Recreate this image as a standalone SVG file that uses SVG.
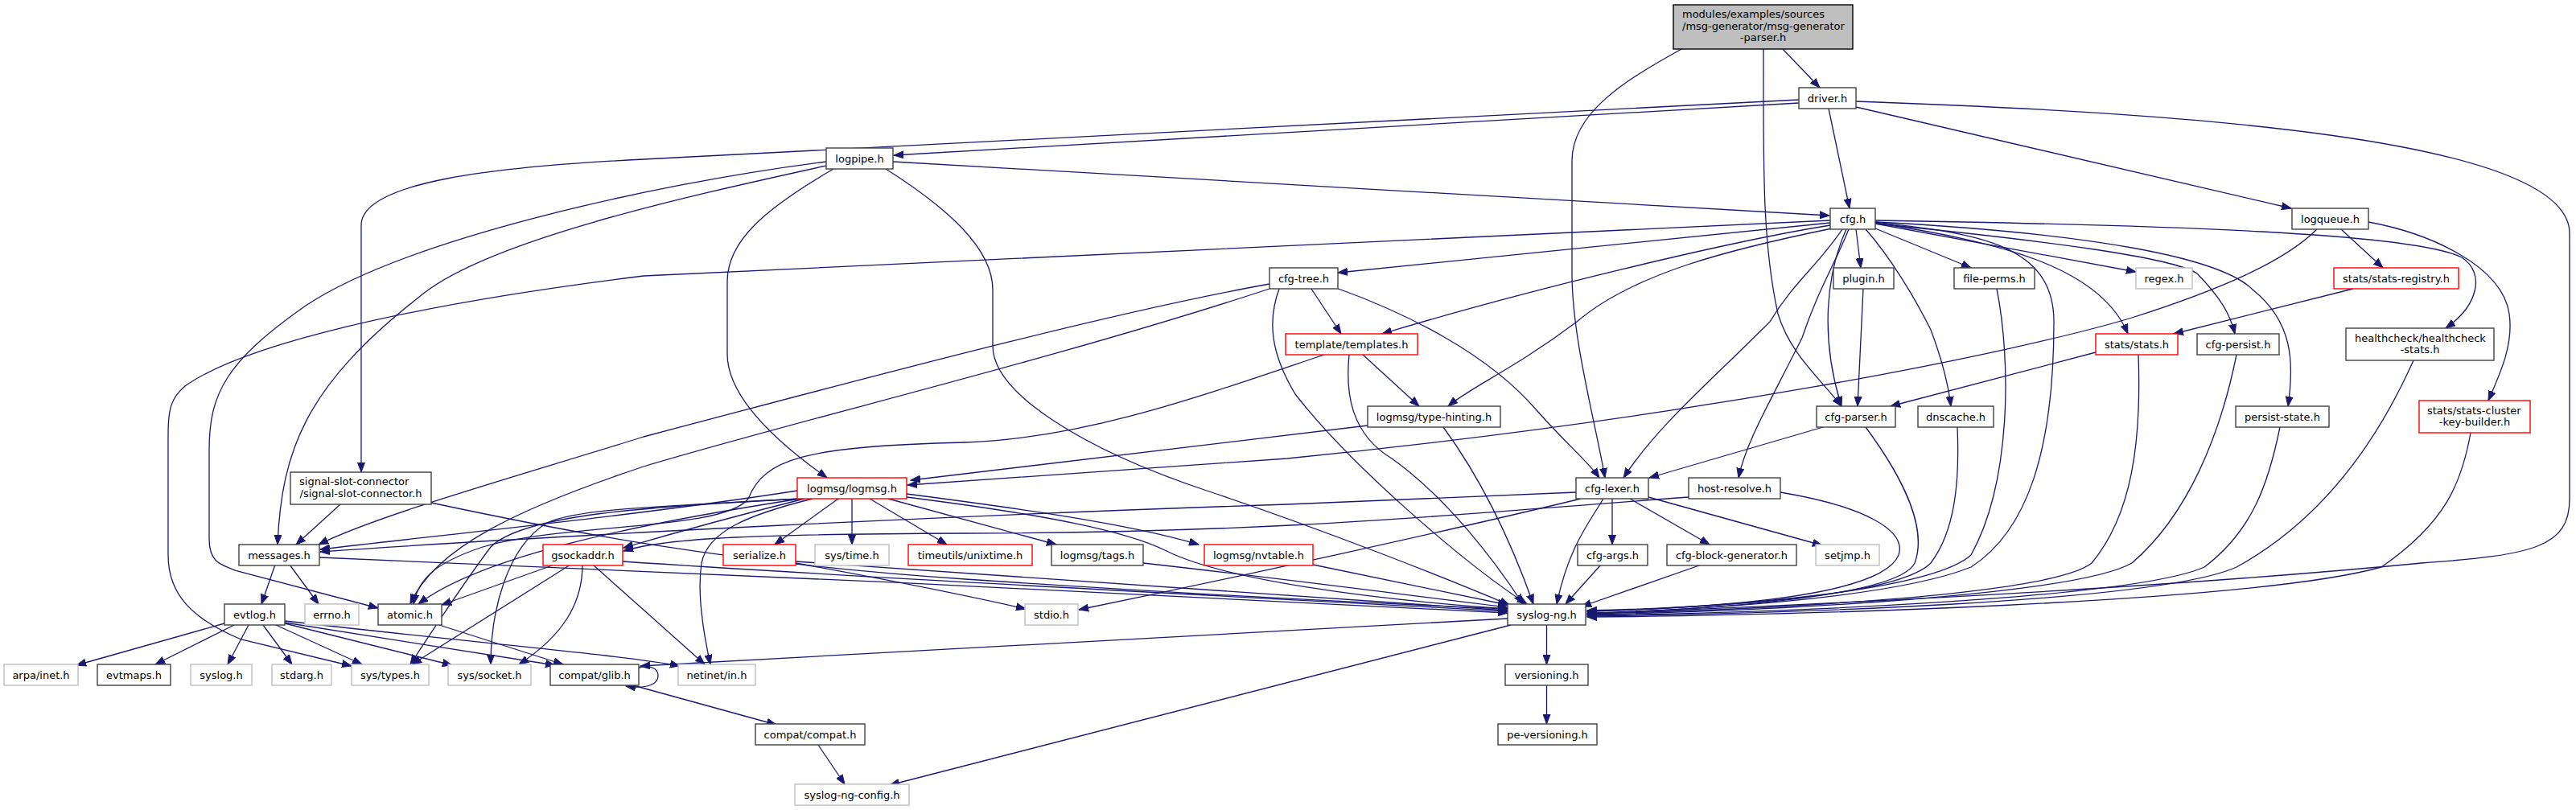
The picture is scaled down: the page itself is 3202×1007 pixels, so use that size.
<svg xmlns="http://www.w3.org/2000/svg" width="3202" height="1007" viewBox="0 0 3202 1007">
<style>
.n rect{fill:#fff;stroke:#404040;stroke-width:1.4}
.g rect{fill:#fff;stroke:#bfbfbf;stroke-width:1.4}
.r rect{fill:#fff;stroke:#ff0000;stroke-width:1.4}
.m rect{fill:#bfbfbf;stroke:#000;stroke-width:1.4}
text{font-family:"DejaVu Sans","Liberation Sans",sans-serif;font-size:13px;fill:#000;text-anchor:middle}
text.l{text-anchor:start}
#edges path{fill:none;stroke:#191970;stroke-width:1.3;marker-end:url(#a)}
</style>
<defs>
<marker id="a" markerUnits="userSpaceOnUse" markerWidth="13" markerHeight="10" refX="12" refY="5" orient="auto" viewBox="0 0 13 10">
<path d="M0,0.5 L12,5 L0,9.5 z" fill="#191970" stroke="#191970" stroke-width="1"/>
</marker>
</defs>
<rect width="3202" height="1007" fill="#fff"/>
<g id="edges">
<path d="M2216,61 L2262,109"/>
<path d="M2192,61 C2192,200 2190,300 2210,390 C2225,440 2262,470 2289,505"/>
<path d="M2090,61 C2020,100 1954,140 1954,200 L1954,340 C1954,420 1982,520 1995,594"/>
<path d="M2236,128 L1111,193"/>
<path d="M2236,124 L800,198 C620,207 449,225 449,280 L449,587"/>
<path d="M2273,135 L2299,259"/>
<path d="M2307,133 L2848,259"/>
<path d="M2307,126 C2700,140 3194,170 3194,290 L3194,620 C3194,680 3150,690 3010,700 C2700,730 2300,750 1973,763"/>
<path d="M1110,201 L2274,268"/>
<path d="M1027,206 C850,245 600,300 520,370 C380,480 350,560 345,677"/>
<path d="M1027,201 C800,230 500,300 380,380 C280,450 260,490 260,560 L260,670 C260,700 275,702 295,710 L470,756"/>
<path d="M1036,210 C950,260 904,300 904,350 L904,440 C904,500 980,560 1028,594"/>
<path d="M1101,210 C1180,260 1234,310 1234,360 L1234,430 C1234,490 1350,560 1500,610 C1650,660 1800,720 1876,752"/>
<path d="M2275,277 L1663,339"/>
<path d="M2275,280 C2150,300 1900,360 1718,415"/>
<path d="M2277,284 C2150,310 2030,340 1960,400 C1880,460 1830,480 1800,505"/>
<path d="M2307,285 L2313,333"/>
<path d="M2295,285 C2270,340 2262,420 2289,505"/>
<path d="M2290,285 C2260,330 2230,350 2200,400 C2120,480 2060,530 2018,594"/>
<path d="M2298,285 C2280,330 2260,360 2240,420 C2200,500 2170,550 2161,594"/>
<path d="M2319,285 C2350,320 2380,370 2400,410 C2415,450 2422,480 2425,505"/>
<path d="M2331,284 L2450,333"/>
<path d="M2331,278 L2655,338"/>
<path d="M2331,276 C2450,290 2553,300 2553,400 C2553,560 2520,660 2450,705 C2350,745 2100,758 1973,763"/>
<path d="M2331,277 C2480,300 2610,330 2645,415"/>
<path d="M2331,278 C2550,300 2700,320 2731,340 C2760,370 2772,390 2778,415"/>
<path d="M2331,276 C2600,290 2760,320 2800,360 C2850,400 2852,450 2844,505"/>
<path d="M2331,274 C2700,280 3000,290 3060,320 C3090,340 3080,380 3040,408"/>
<path d="M2275,274 L800,343 C500,380 300,430 230,480 C212,495 209,510 209,540 L209,690 C209,740 240,770 300,795 L437,828"/>
<path d="M2880,285 C2840,325 2760,360 2650,395 C2500,440 2100,520 1600,570 L1128,603"/>
<path d="M2910,285 L2962,333"/>
<path d="M2944,276 C3020,290 3110,330 3119,390 C3125,430 3105,470 3093,498"/>
<path d="M2925,359 L2702,415"/>
<path d="M1630,359 L1667,415"/>
<path d="M1661,358 C1750,390 1850,440 1910,510 C1950,555 1975,575 1988,594"/>
<path d="M1578,353 C1400,385 1150,450 800,543 C650,590 470,640 396,677"/>
<path d="M1578,359 C1300,450 1000,520 800,580 C650,630 540,680 510,751"/>
<path d="M1590,359 C1575,400 1580,440 1610,490 C1680,580 1820,700 1898,751"/>
<path d="M1694,441 L1764,505"/>
<path d="M1677,441 C1672,490 1680,540 1730,570 C1800,620 1860,700 1893,751"/>
<path d="M1646,441 C1500,490 1350,545 1200,550 C1000,555 950,570 930,620 C900,660 700,650 600,680 C540,700 520,720 514,751"/>
<path d="M1700,529 L1132,597"/>
<path d="M1794,531 C1830,580 1870,650 1906,751"/>
<path d="M1042,620 L963,677"/>
<path d="M1059,620 L1059,677"/>
<path d="M1081,620 L1177,677"/>
<path d="M1104,620 L1313,677"/>
<path d="M1127,614 C1250,630 1400,650 1490,677"/>
<path d="M1127,618 C1300,640 1400,660 1450,685 C1520,720 1700,745 1874,757"/>
<path d="M991,610 C800,640 550,665 398,683"/>
<path d="M995,620 C800,650 600,690 520,751"/>
<path d="M1000,620 C920,640 840,662 775,681"/>
<path d="M996,620 C800,630 650,640 610,680 C580,720 540,780 510,826"/>
<path d="M994,620 C820,630 720,632 680,650 C630,680 610,760 610,826"/>
<path d="M1010,620 C930,640 880,660 872,700 C866,740 875,790 883,826"/>
<path d="M689,702 L549,752"/>
<path d="M709,702 L512,826"/>
<path d="M724,702 C724,750 700,790 645,826"/>
<path d="M737,702 L876,826"/>
<path d="M774,698 C1100,720 1600,745 1874,760"/>
<path d="M342,702 L325,751"/>
<path d="M360,702 L396,751"/>
<path d="M397,693 C800,710 1500,740 1874,762"/>
<path d="M989,700 C1100,720 1200,740 1275,757"/>
<path d="M989,698 C1300,720 1600,740 1874,759"/>
<path d="M1421,700 C1600,720 1750,740 1874,755"/>
<path d="M1632,702 L1874,752"/>
<path d="M1959,612 L1600,627 C1200,640 700,665 398,686"/>
<path d="M1965,620 C1800,660 1550,715 1341,758"/>
<path d="M2004,620 L2004,677"/>
<path d="M2026,620 L2125,677"/>
<path d="M2049,618 L2265,678"/>
<path d="M1993,620 C1975,650 1950,680 1935,751"/>
<path d="M1990,702 L1946,751"/>
<path d="M2115,702 L1966,754"/>
<path d="M2099,618 C1800,640 1600,662 1200,663 C950,664 830,668 775,685"/>
<path d="M2213,612 C2320,630 2370,660 2360,690 C2340,740 2150,755 1973,760"/>
<path d="M2266,531 L2050,594"/>
<path d="M2319,531 C2370,600 2395,660 2380,700 C2360,740 2150,757 1973,762"/>
<path d="M2316,359 L2309,505"/>
<path d="M2605,438 L2350,505"/>
<path d="M2658,441 C2662,550 2650,640 2600,700 C2550,740 2200,758 1973,763"/>
<path d="M2433,531 C2436,600 2430,660 2400,700 C2360,740 2150,755 1973,759"/>
<path d="M2482,359 C2500,450 2500,600 2450,690 C2400,735 2150,755 1973,760"/>
<path d="M2780,441 C2760,540 2720,640 2650,700 C2580,740 2200,760 1973,764"/>
<path d="M2834,531 C2820,600 2800,660 2740,705 C2650,745 2200,762 1973,765"/>
<path d="M3000,448 C2950,560 2880,650 2780,705 C2680,750 2200,763 1973,766"/>
<path d="M3071,538 C3060,600 3040,650 2960,705 C2800,750 2200,766 1973,767"/>
<path d="M423,627 L368,677"/>
<path d="M536,625 C700,660 900,700 1200,720 C1500,740 1750,752 1874,757"/>
<path d="M279,775 L95,827"/>
<path d="M291,777 L193,826"/>
<path d="M309,777 L283,826"/>
<path d="M327,777 L363,826"/>
<path d="M343,777 L450,826"/>
<path d="M354,775 L562,827"/>
<path d="M354,774 L690,827"/>
<path d="M354,772 C600,800 780,815 845,828"/>
<path d="M546,777 L700,826"/>
<path d="M1878,777 L1106,976"/>
<path d="M1874,769 L796,828"/>
<path d="M794,830 C810,826 818,832 818,840 C818,850 806,857 778,853"/>
<path d="M787,852 L965,901"/>
<path d="M1017,926 L1050,975"/>
<path d="M1922.5,777 L1922.5,826"/>
<path d="M1922.5,852 L1922.5,900"/>
</g>
<g id="n0" class="m"><rect x="2080" y="6" width="223" height="55"/><text class="l" x="2091" y="22">modules/examples/sources</text><text class="l" x="2091" y="37">/msg-generator/msg-generator</text><text x="2191.5" y="51">-parser.h</text></g>
<g id="n1" class="n"><rect x="2236" y="109" width="71" height="26"/><text x="2271.5" y="126.5">driver.h</text></g>
<g id="n2" class="n"><rect x="1027" y="184" width="83" height="26"/><text x="1068.5" y="201.5">logpipe.h</text></g>
<g id="n3" class="n"><rect x="2275" y="259" width="56" height="26"/><text x="2303" y="276.5">cfg.h</text></g>
<g id="n4" class="n"><rect x="2849" y="259" width="95" height="26"/><text x="2896.5" y="276.5">logqueue.h</text></g>
<g id="n5" class="n"><rect x="1578" y="333" width="85" height="26"/><text x="1620.5" y="350.5">cfg-tree.h</text></g>
<g id="n6" class="n"><rect x="2279" y="333" width="75" height="26"/><text x="2316.5" y="350.5">plugin.h</text></g>
<g id="n7" class="n"><rect x="2429" y="333" width="100" height="26"/><text x="2479" y="350.5">file-perms.h</text></g>
<g id="n8" class="g"><rect x="2655" y="333" width="70" height="26"/><text x="2690" y="350.5">regex.h</text></g>
<g id="n9" class="r"><rect x="2901" y="333" width="155" height="26"/><text x="2978.5" y="350.5">stats/stats-registry.h</text></g>
<g id="n10" class="r"><rect x="1598" y="415" width="164" height="26"/><text x="1680" y="432.5">template/templates.h</text></g>
<g id="n11" class="r"><rect x="2605" y="415" width="102" height="26"/><text x="2656" y="432.5">stats/stats.h</text></g>
<g id="n12" class="n"><rect x="2731" y="415" width="102" height="26"/><text x="2782" y="432.5">cfg-persist.h</text></g>
<g id="n13" class="n"><rect x="2916" y="408" width="184" height="40"/><text class="l" x="2927" y="424.5">healthcheck/healthcheck</text><text x="3008" y="439">-stats.h</text></g>
<g id="n14" class="n"><rect x="1700" y="505" width="165" height="26"/><text x="1782.5" y="522.5">logmsg/type-hinting.h</text></g>
<g id="n15" class="n"><rect x="2258" y="505" width="98" height="26"/><text x="2307" y="522.5">cfg-parser.h</text></g>
<g id="n16" class="n"><rect x="2384" y="505" width="94" height="26"/><text x="2431" y="522.5">dnscache.h</text></g>
<g id="n17" class="n"><rect x="2779" y="505" width="116" height="26"/><text x="2837" y="522.5">persist-state.h</text></g>
<g id="n18" class="r"><rect x="3007" y="498" width="138" height="40"/><text class="l" x="3017" y="514.5">stats/stats-cluster</text><text x="3076" y="529">-key-builder.h</text></g>
<g id="n19" class="n"><rect x="361" y="587" width="175" height="40"/><text class="l" x="372" y="603">signal-slot-connector</text><text x="448.5" y="618">/signal-slot-connector.h</text></g>
<g id="n20" class="r"><rect x="991" y="594" width="136" height="26"/><text x="1059" y="611.5">logmsg/logmsg.h</text></g>
<g id="n21" class="n"><rect x="1959" y="594" width="90" height="26"/><text x="2004" y="611.5">cfg-lexer.h</text></g>
<g id="n22" class="n"><rect x="2099" y="594" width="114" height="26"/><text x="2156" y="611.5">host-resolve.h</text></g>
<g id="n23" class="n"><rect x="297" y="677" width="100" height="26"/><text x="347" y="694.5">messages.h</text></g>
<g id="n24" class="r"><rect x="675" y="677" width="99" height="26"/><text x="724.5" y="694.5">gsockaddr.h</text></g>
<g id="n25" class="r"><rect x="899" y="677" width="90" height="26"/><text x="944" y="694.5">serialize.h</text></g>
<g id="n26" class="g"><rect x="1013" y="677" width="92" height="26"/><text x="1059" y="694.5">sys/time.h</text></g>
<g id="n27" class="r"><rect x="1129" y="677" width="154" height="26"/><text x="1206" y="694.5">timeutils/unixtime.h</text></g>
<g id="n28" class="n"><rect x="1307" y="677" width="114" height="26"/><text x="1364" y="694.5">logmsg/tags.h</text></g>
<g id="n29" class="r"><rect x="1497" y="677" width="135" height="26"/><text x="1564.5" y="694.5">logmsg/nvtable.h</text></g>
<g id="n30" class="n"><rect x="1961" y="677" width="87" height="26"/><text x="2004.5" y="694.5">cfg-args.h</text></g>
<g id="n31" class="n"><rect x="2072" y="677" width="161" height="26"/><text x="2152.5" y="694.5">cfg-block-generator.h</text></g>
<g id="n32" class="g"><rect x="2257" y="677" width="79" height="26"/><text x="2296.5" y="694.5">setjmp.h</text></g>
<g id="n33" class="n"><rect x="279" y="751" width="75" height="26"/><text x="316.5" y="768.5">evtlog.h</text></g>
<g id="n34" class="g"><rect x="379" y="751" width="67" height="26"/><text x="412.5" y="768.5">errno.h</text></g>
<g id="n35" class="n"><rect x="470" y="751" width="79" height="26"/><text x="509.5" y="768.5">atomic.h</text></g>
<g id="n36" class="g"><rect x="1274" y="751" width="66" height="26"/><text x="1307" y="768.5">stdio.h</text></g>
<g id="n37" class="n"><rect x="1874" y="751" width="97" height="26"/><text x="1922.5" y="768.5">syslog-ng.h</text></g>
<g id="n38" class="g"><rect x="5" y="826" width="92" height="26"/><text x="51" y="843.5">arpa/inet.h</text></g>
<g id="n39" class="n"><rect x="121" y="826" width="91" height="26"/><text x="166.5" y="843.5">evtmaps.h</text></g>
<g id="n40" class="g"><rect x="237" y="826" width="76" height="26"/><text x="275" y="843.5">syslog.h</text></g>
<g id="n41" class="g"><rect x="338" y="826" width="74" height="26"/><text x="375" y="843.5">stdarg.h</text></g>
<g id="n42" class="g"><rect x="437" y="826" width="96" height="26"/><text x="485" y="843.5">sys/types.h</text></g>
<g id="n43" class="g"><rect x="557" y="826" width="103" height="26"/><text x="608.5" y="843.5">sys/socket.h</text></g>
<g id="n44" class="n"><rect x="684" y="826" width="110" height="26"/><text x="739" y="843.5">compat/glib.h</text></g>
<g id="n45" class="g"><rect x="843" y="826" width="96" height="26"/><text x="891" y="843.5">netinet/in.h</text></g>
<g id="n46" class="n"><rect x="1871" y="826" width="103" height="26"/><text x="1922.5" y="843.5">versioning.h</text></g>
<g id="n47" class="n"><rect x="939" y="900" width="136" height="26"/><text x="1007" y="917.5">compat/compat.h</text></g>
<g id="n48" class="n"><rect x="1862" y="900" width="123" height="26"/><text x="1923.5" y="917.5">pe-versioning.h</text></g>
<g id="n49" class="g"><rect x="988" y="975" width="142" height="26"/><text x="1059" y="992.5">syslog-ng-config.h</text></g>
</svg>
